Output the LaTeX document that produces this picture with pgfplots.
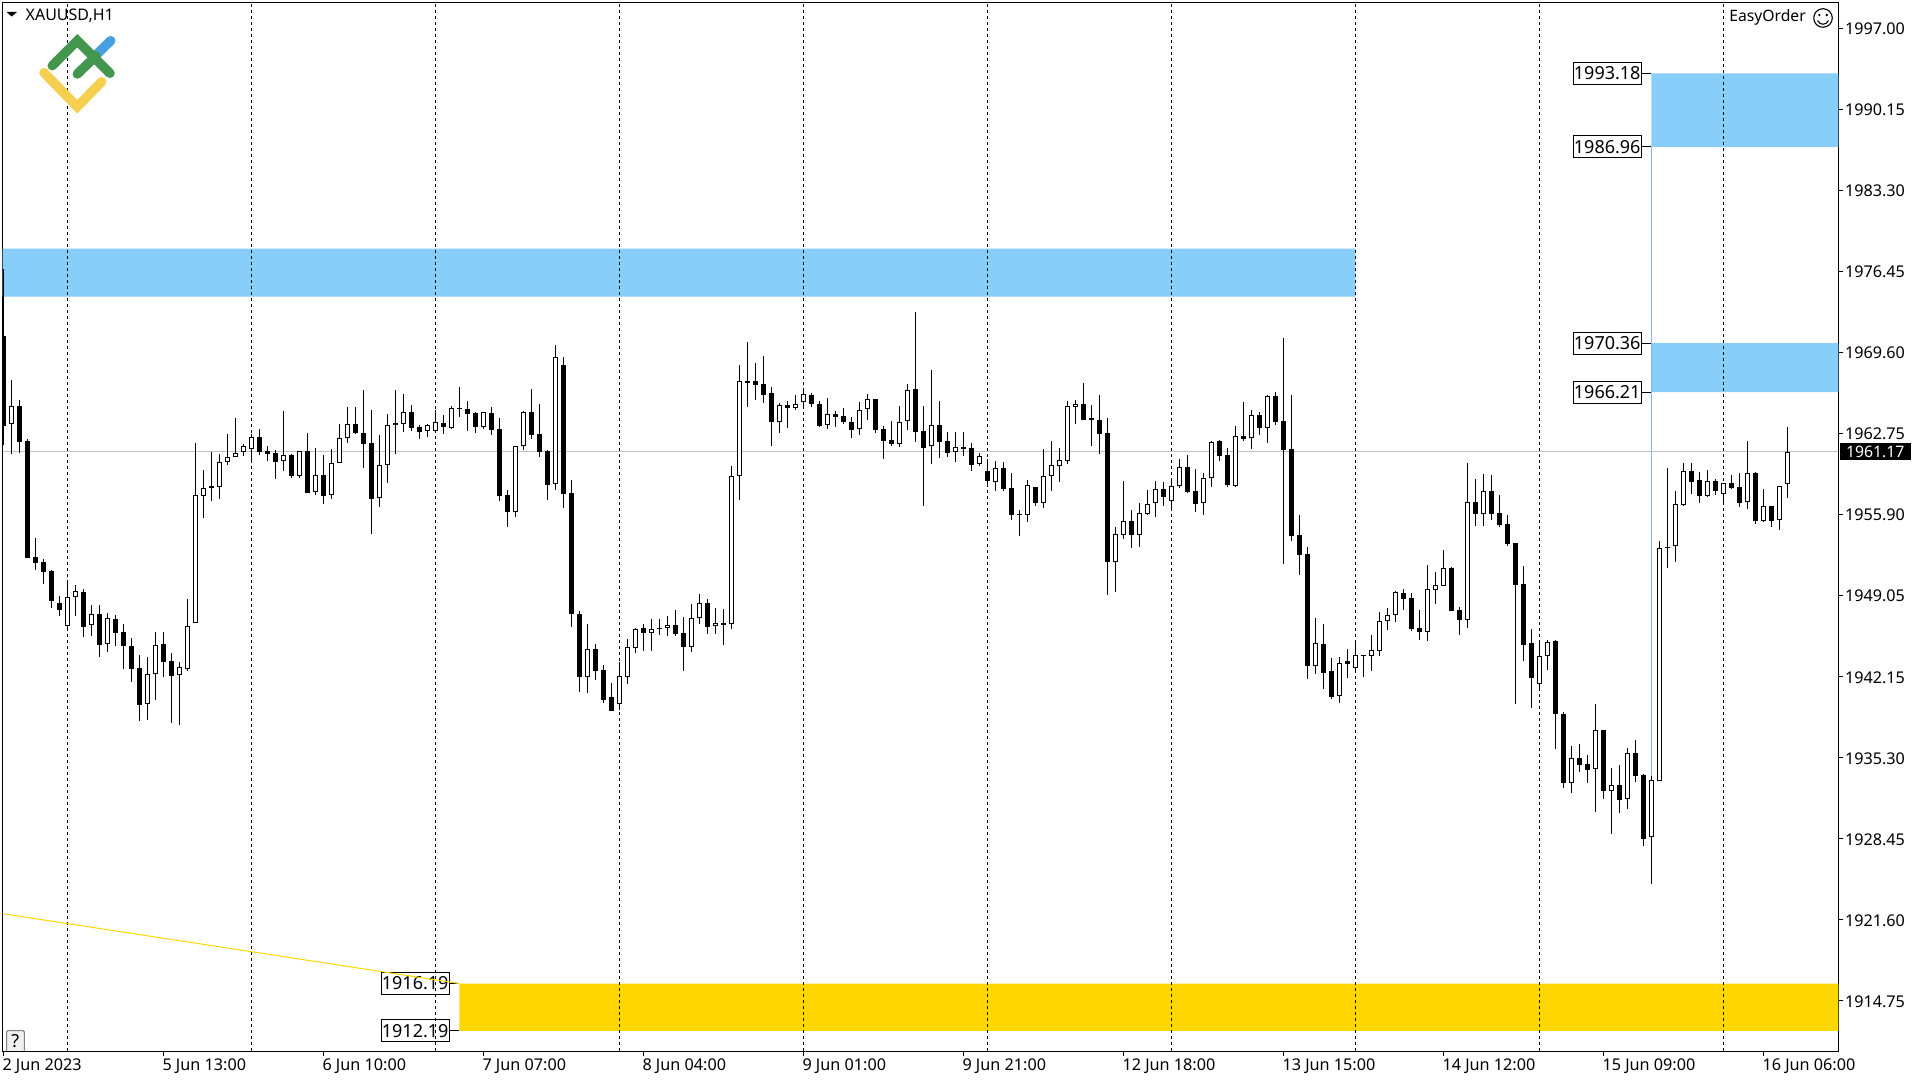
\documentclass[border=0pt]{standalone}
\usepackage{pgfplots}
\usepackage{pgfplotstable}
\usepackage{fontspec}
\setmainfont{Noto Sans}
\pgfplotsset{compat=1.18}
\definecolor{zoneblue}{HTML}{87CEFA}
\definecolor{zonegold}{HTML}{FFD700}
\definecolor{lastline}{HTML}{C0C0C0}
\definecolor{logogreen}{HTML}{43964E}
\definecolor{logoblue}{HTML}{46A0E0}
\definecolor{logoyellow}{HTML}{F5CF4F}
\pgfplotstableread{
i o h l c
0 1970.97 1976.64 1961.77 1963.38
1 1963.49 1967.24 1961.01 1965.02
2 1965.04 1965.55 1961.10 1962.03
3 1962.08 1962.25 1952.21 1952.21
4 1952.27 1953.88 1951.17 1951.79
5 1951.84 1952.10 1950.01 1951.03
6 1951.08 1951.17 1947.98 1948.58
7 1948.38 1948.97 1947.31 1947.81
8 1946.46 1950.04 1946.23 1948.86
9 1948.86 1949.90 1947.31 1949.36
10 1949.31 1949.56 1945.53 1946.38
11 1946.49 1948.21 1945.59 1947.42
12 1947.45 1948.21 1943.84 1944.85
13 1944.88 1947.53 1944.26 1947.08
14 1947.02 1947.36 1944.77 1945.87
15 1945.92 1946.60 1942.82 1944.77
16 1944.74 1945.42 1941.72 1942.82
17 1942.88 1943.98 1938.42 1939.78
18 1939.80 1943.81 1938.51 1942.34
19 1942.34 1945.92 1940.20 1944.79
20 1944.91 1945.92 1942.14 1943.41
21 1943.47 1944.15 1938.25 1942.23
22 1942.26 1943.38 1938.08 1942.93
23 1942.76 1948.71 1942.65 1946.40
24 1946.66 1961.91 1946.66 1957.48
25 1957.46 1959.63 1955.60 1958.08
26 1958.28 1961.18 1957.03 1958.13
27 1958.22 1960.98 1957.20 1960.28
28 1960.28 1962.67 1960.08 1960.70
29 1960.76 1964.03 1960.76 1961.04
30 1961.12 1961.83 1960.84 1961.63
31 1961.43 1962.65 1960.42 1962.39
32 1962.42 1963.10 1960.93 1961.18
33 1961.24 1961.66 1960.42 1961.01
34 1961.07 1961.32 1958.89 1960.33
35 1960.36 1964.62 1959.57 1960.87
36 1960.90 1960.98 1958.98 1959.15
37 1959.15 1961.24 1958.98 1961.21
38 1961.24 1962.76 1957.71 1957.71
39 1957.79 1961.49 1957.51 1959.18
40 1959.21 1960.90 1956.78 1957.46
41 1957.49 1961.41 1957.21 1960.20
42 1960.25 1963.52 1960.20 1962.31
43 1962.31 1964.96 1961.94 1963.49
44 1963.52 1964.96 1962.71 1962.79
45 1962.76 1966.40 1959.83 1961.86
46 1961.92 1964.71 1954.25 1957.21
47 1957.24 1962.59 1956.53 1960.03
48 1960.03 1964.37 1958.56 1963.41
49 1963.41 1966.40 1961.01 1963.58
50 1963.55 1966.06 1962.87 1964.51
51 1964.54 1965.13 1962.96 1963.21
52 1963.24 1963.44 1962.28 1962.87
53 1962.90 1963.52 1962.45 1963.41
54 1962.90 1964.71 1962.73 1963.66
55 1963.61 1964.28 1962.71 1963.30
56 1963.16 1965.02 1963.13 1964.85
57 1964.88 1966.65 1964.14 1964.79
58 1964.79 1965.47 1962.96 1964.40
59 1964.43 1964.54 1962.79 1963.30
60 1963.30 1964.54 1963.13 1964.51
61 1964.43 1964.96 1962.62 1963.05
62 1963.10 1964.03 1957.04 1957.46
63 1957.52 1957.94 1954.84 1956.11
64 1956.05 1961.63 1955.69 1961.63
65 1961.63 1964.60 1961.35 1964.51
66 1964.54 1966.48 1962.28 1962.62
67 1962.68 1965.21 1960.76 1961.18
68 1961.24 1961.32 1957.12 1958.39
69 1958.42 1970.21 1957.97 1969.16
70 1968.51 1969.19 1956.44 1957.63
71 1957.69 1958.79 1946.38 1947.48
72 1947.45 1947.70 1940.88 1942.15
73 1942.09 1946.60 1940.79 1944.46
74 1944.49 1944.91 1941.89 1942.66
75 1942.71 1943.13 1939.95 1940.20
76 1940.43 1941.61 1939.27 1939.27
77 1939.86 1943.38 1939.32 1942.17
78 1942.14 1945.33 1941.52 1944.63
79 1944.60 1946.26 1944.17 1946.15
80 1946.23 1946.60 1944.34 1945.87
81 1945.87 1947.02 1944.34 1946.15
82 1946.26 1947.02 1945.70 1946.18
83 1946.29 1947.28 1945.61 1946.49
84 1946.51 1947.78 1945.61 1945.76
85 1945.84 1947.19 1942.65 1944.68
86 1944.68 1948.29 1944.26 1947.08
87 1947.08 1949.14 1946.63 1948.35
88 1948.38 1948.72 1945.78 1946.38
89 1946.41 1947.96 1945.78 1946.66
90 1946.66 1947.87 1944.85 1946.55
91 1946.58 1959.97 1946.21 1959.09
92 1959.09 1968.51 1957.09 1967.13
93 1967.13 1970.46 1964.99 1967.02
94 1967.16 1968.68 1965.58 1966.85
95 1966.91 1969.28 1965.33 1966.00
96 1966.14 1966.65 1961.69 1963.72
97 1963.66 1965.30 1962.79 1965.10
98 1965.13 1965.47 1963.21 1964.90
99 1964.90 1965.98 1964.74 1965.19
100 1965.36 1966.31 1964.99 1966.03
101 1965.98 1966.14 1964.99 1965.24
102 1965.21 1965.47 1963.30 1963.38
103 1963.41 1965.72 1963.13 1964.34
104 1964.37 1964.62 1963.30 1964.14
105 1964.20 1964.87 1963.55 1963.72
106 1963.69 1964.11 1962.37 1963.04
107 1963.07 1965.38 1962.62 1964.68
108 1964.76 1966.06 1963.89 1965.61
109 1965.64 1965.64 1962.79 1963.04
110 1963.10 1963.35 1960.59 1962.11
111 1962.17 1963.77 1961.69 1961.86
112 1961.86 1965.04 1961.60 1963.66
113 1963.75 1966.91 1963.04 1966.37
114 1966.48 1973.00 1962.03 1962.87
115 1962.93 1965.04 1956.61 1961.52
116 1961.63 1968.09 1960.17 1963.41
117 1963.44 1965.47 1960.67 1962.03
118 1962.08 1962.84 1960.76 1961.10
119 1961.12 1962.84 1960.33 1961.55
120 1961.58 1962.84 1960.84 1961.43
121 1961.49 1961.91 1959.57 1960.08
122 1960.17 1961.07 1960.00 1960.79
123 1959.55 1960.59 1958.36 1958.73
124 1958.64 1960.39 1957.88 1959.77
125 1959.80 1960.31 1957.88 1958.05
126 1958.11 1959.38 1955.43 1955.85
127 1955.91 1956.25 1954.07 1955.85
128 1955.85 1958.78 1955.26 1958.33
129 1958.19 1958.19 1956.61 1956.87
130 1956.87 1961.41 1956.44 1959.09
131 1959.15 1962.08 1957.88 1960.02
132 1960.00 1961.49 1958.64 1960.45
133 1960.42 1965.47 1960.17 1965.02
134 1964.99 1965.55 1963.55 1965.19
135 1965.21 1966.99 1963.86 1963.89
136 1964.00 1965.13 1961.69 1963.89
137 1963.86 1965.97 1961.01 1962.70
138 1962.76 1964.03 1949.08 1951.87
139 1951.87 1954.81 1949.34 1954.19
140 1954.16 1958.70 1953.82 1955.29
141 1955.32 1956.25 1953.06 1954.16
142 1954.16 1956.84 1953.14 1955.96
143 1955.94 1957.94 1955.85 1956.73
144 1956.81 1958.70 1955.68 1957.99
145 1958.02 1958.61 1956.61 1957.37
146 1957.04 1958.79 1956.36 1958.25
147 1958.25 1960.56 1958.08 1959.86
148 1959.88 1960.90 1957.71 1957.80
149 1957.85 1959.71 1956.10 1956.78
150 1956.87 1959.38 1955.85 1958.92
151 1958.92 1962.08 1958.22 1961.97
152 1962.06 1962.17 1960.42 1960.84
153 1960.90 1961.46 1958.22 1958.39
154 1958.31 1963.35 1958.22 1962.48
155 1962.51 1965.38 1962.11 1962.25
156 1962.31 1964.71 1961.41 1964.25
157 1964.25 1964.54 1962.62 1963.21
158 1963.21 1965.95 1961.94 1965.89
159 1965.89 1966.23 1963.47 1963.72
160 1963.78 1970.80 1951.71 1961.32
161 1961.38 1965.97 1953.65 1954.08
162 1954.13 1955.82 1950.78 1952.47
163 1952.53 1953.12 1941.98 1943.08
164 1943.02 1947.11 1942.40 1944.97
165 1944.91 1946.60 1941.13 1942.49
166 1942.63 1943.73 1940.29 1940.46
167 1940.54 1943.81 1939.95 1943.28
168 1943.45 1944.49 1942.06 1943.25
169 1942.91 1944.97 1942.51 1943.95
170 1943.95 1943.95 1942.15 1943.87
171 1943.92 1945.67 1942.66 1944.38
172 1944.35 1947.62 1943.92 1946.83
173 1946.83 1947.96 1946.12 1947.34
174 1947.34 1949.37 1946.80 1949.28
175 1949.20 1949.56 1947.82 1948.75
176 1948.80 1949.22 1946.04 1946.21
177 1946.27 1947.79 1945.28 1945.95
178 1945.95 1951.59 1945.19 1949.54
179 1949.51 1951.00 1948.32 1949.87
180 1949.85 1952.86 1949.85 1951.31
181 1951.34 1951.43 1947.73 1947.73
182 1947.79 1948.04 1945.70 1946.97
183 1946.91 1960.22 1946.29 1956.90
184 1956.92 1958.87 1954.92 1955.94
185 1955.88 1959.29 1954.92 1957.83
186 1957.86 1959.21 1955.43 1955.94
187 1955.99 1957.52 1954.84 1955.01
188 1955.06 1955.82 1953.23 1953.40
189 1953.46 1953.46 1939.86 1949.93
190 1949.98 1951.51 1943.50 1944.85
191 1944.99 1946.18 1939.52 1942.06
192 1941.50 1945.05 1941.02 1943.86
193 1943.87 1945.25 1942.74 1945.05
194 1945.14 1945.25 1936.06 1939.02
195 1938.99 1939.16 1932.76 1933.18
196 1933.18 1936.28 1932.33 1935.24
197 1935.27 1936.45 1934.11 1934.70
198 1934.76 1935.52 1933.18 1934.28
199 1934.31 1939.83 1930.73 1937.61
200 1937.64 1937.64 1931.83 1932.50
201 1932.50 1934.42 1928.87 1932.95
202 1932.98 1934.67 1930.64 1931.74
203 1931.77 1936.11 1930.98 1935.66
204 1935.69 1936.79 1933.26 1933.77
205 1933.83 1933.91 1927.85 1928.44
206 1928.56 1933.74 1924.64 1933.38
207 1933.29 1953.62 1933.29 1953.00
208 1953.09 1959.80 1951.37 1953.00
209 1953.17 1957.85 1951.84 1956.72
210 1956.70 1960.22 1956.61 1959.52
211 1959.54 1960.22 1957.60 1958.64
212 1958.78 1959.46 1956.86 1957.46
213 1957.46 1959.63 1957.37 1958.67
214 1958.70 1958.87 1957.54 1957.88
215 1957.63 1958.55 1956.86 1958.50
216 1958.53 1959.20 1958.05 1958.13
217 1958.19 1959.37 1956.53 1956.86
218 1956.89 1962.08 1956.36 1959.35
219 1959.37 1959.46 1955.09 1955.34
220 1955.34 1958.02 1955.26 1956.55
221 1956.58 1956.58 1954.83 1955.34
222 1955.37 1958.27 1954.58 1958.25
223 1958.42 1963.27 1957.29 1961.17
}\candles
\begin{document}
\begin{tikzpicture}[x=1pt,y=1pt,every node/.style={font=\fontsize{16.2}{18}\selectfont}]
\path[use as bounding box,fill=white] (0,0) rectangle (1920,1080);
\begin{axis}[
  at={(2.5pt,29pt)},anchor=south west,
  scale only axis,width=1835.8pt,height=1048.7pt,
  xmin=-0.1,xmax=229.375,ymin=1910.48,ymax=1999.2,
  clip mode=individual,
  axis line style={line width=1pt,black},
  tick align=outside,major tick length=5pt,
  tick style={line width=1pt,black},
  xtick pos=bottom,ytick pos=right,yticklabel pos=right,
  xtick={0,20,40,60,80,100,120,140,160,180,200,220},
  xticklabels={2 Jun 2023,5 Jun 13:00,6 Jun 10:00,7 Jun 07:00,8 Jun 04:00,9 Jun 01:00,9 Jun 21:00,12 Jun 18:00,13 Jun 15:00,14 Jun 12:00,15 Jun 09:00,16 Jun 06:00},
  ytick={1997,1990.15,1983.30,1976.45,1969.60,1962.75,1955.90,1949.05,1942.15,1935.30,1928.45,1921.60,1914.75},
  yticklabels={1997.00,1990.15,1983.30,1976.45,1969.60,1962.75,1955.90,1949.05,1942.15,1935.30,1928.45,1921.60,1914.75},
  xticklabel style={anchor=north west,inner sep=0pt,yshift=-3pt,xshift=-1pt},
  yticklabel style={anchor=west,inner sep=0pt,xshift=1.5pt,yshift=-1pt},
  every tick label/.append style={font=\fontsize{16.2}{18}\selectfont},
]
% zones
\addplot[fill=zoneblue,draw=none] coordinates {(-0.1,1974.29)(169,1974.29)(169,1978.35)(-0.1,1978.35)(-0.1,1974.29)};
\addplot[fill=zoneblue,draw=none] coordinates {(206,1986.96)(229.375,1986.96)(229.375,1993.18)(206,1993.18)(206,1986.96)};
\addplot[fill=zoneblue,draw=none] coordinates {(206,1966.21)(229.375,1966.21)(229.375,1970.36)(206,1970.36)(206,1966.21)};
\addplot[fill=zonegold,draw=none] coordinates {(57,1912.19)(229.375,1912.19)(229.375,1916.19)(57,1916.19)(57,1912.19)};
% price labels
\foreach \p/\t in {1993.18/1993.18,1986.96/1986.96,1970.36/1970.36,1966.21/1966.21}{
  \edef\temp{\noexpand\draw[line width=1pt] (axis cs:206,\p) -- ++(-9.6pt,0pt) node[anchor=east,draw=black,line width=1pt,fill=white,minimum width=68pt,minimum height=22pt,inner sep=0pt,font=\noexpand\fontsize{18}{20}\noexpand\selectfont]{\noexpand\raisebox{-1pt}{\t}};}\temp
}
\foreach \p/\t in {1916.19/1916.19,1912.19/1912.19}{
  \edef\temp{\noexpand\draw[line width=1pt] (axis cs:57,\p) -- ++(-9.6pt,0pt) node[anchor=east,draw=black,line width=1pt,fill=white,minimum width=68pt,minimum height=22pt,inner sep=0pt,font=\noexpand\fontsize{18}{20}\noexpand\selectfont]{\noexpand\raisebox{-1pt}{\t}};}\temp
}
% period separators
\pgfplotsinvokeforeach{8,31,54,77,100,123,146,169,192,215}{
  \addplot[black,line width=1pt,dash pattern=on 3pt off 3pt] coordinates {(#1,1910.48)(#1,1999.2)};
}
% trend lines
\addplot[zoneblue!90!blue,line width=1pt] coordinates {(206,1986.96)(206,1933.74)};
\addplot[zonegold,line width=1pt] coordinates {(-0.1,1922.10)(57,1916.19)};
\addplot[lastline,line width=1pt] coordinates {(-0.1,1961.17)(229.375,1961.17)};
% wicks
\addplot[draw=none,mark=none,forget plot,error bars/.cd,y dir=plus,y explicit,error mark=none,error bar style={line width=1pt,black}]
  table[x=i,y=l,y error plus expr=\thisrow{h}-\thisrow{l}] {\candles};
% bodies: black outer
\addplot[draw=none,mark=none,forget plot,error bars/.cd,y dir=plus,y explicit,error mark=none,error bar style={line width=5pt,black}]
  table[x=i,y expr={min(\thisrow{o},\thisrow{c})},y error plus expr={abs(\thisrow{c}-\thisrow{o})}] {\candles};
% bodies: white inner of rising candles
\addplot[draw=none,mark=none,forget plot,error bars/.cd,y dir=plus,y explicit,error mark=none,error bar style={line width=3pt,white}]
  table[x=i,y expr={\thisrow{o}+0.0846},y error plus expr={\thisrow{c}>\thisrow{o} ? max(0,\thisrow{c}-\thisrow{o}-0.1692) : 0}] {\candles};
% last price tag
\fill[black] ([xshift=2pt,yshift=-8.5pt]axis cs:229.375,1961.17) rectangle ++(70.5pt,17pt);
\node[anchor=west,text=white,inner sep=0pt,font=\fontsize{15.8}{18}\selectfont] at ([xshift=7.5pt,yshift=-0.5pt]axis cs:229.375,1961.17) {1961.17};
\end{axis}
\begin{scope}[shift={(0,1080)},yscale=-1]
  % logo
  \draw[logoblue,line width=9.5pt,line cap=round] (96,55)--(110.7,40.7);
  \draw[logogreen,line width=9.5pt,line cap=round,line join=miter] (52.3,65.7)--(77.3,40.7)--(110,73.3);
  \draw[logogreen,line width=9.5pt,line cap=round] (77.3,74)--(96,56);
  \draw[logoyellow,line width=9.5pt,line cap=round,line join=miter] (44,72.7)--(77.3,106.7)--(101.7,81.7);
  % symbol menu
  \fill[black] (6.5,12)--(17,12)--(11.75,16.5)--cycle;
  \node[anchor=west,inner sep=0pt,font=\fontsize{16}{18}\selectfont] at (25.5,16) {XAUUSD,H1};
  \node[anchor=east,inner sep=0pt,font=\fontsize{15.7}{18}\selectfont] at (1806,17.5) {EasyOrder};
  % smiley
  \draw[line width=1.1pt] (1823,18) circle (9.3);
  \fill (1819.3,15) circle (1.3) (1826.7,15) circle (1.3);
  \draw[line width=1.1pt] (1817.5,20.5) .. controls (1820,25.5) and (1826,25.5) .. (1828.5,20.5);
  % help button
  \draw[gray,fill=black!6,rounded corners=1.5pt,line width=1pt] (6.7,1050.5)--(6.7,1030.5)--(24.3,1030.5)--(24.3,1050.5);
  \node[inner sep=0pt,font=\fontsize{18}{20}\selectfont] at (15.3,1041) {?};
\end{scope}
\end{tikzpicture}
\end{document}
